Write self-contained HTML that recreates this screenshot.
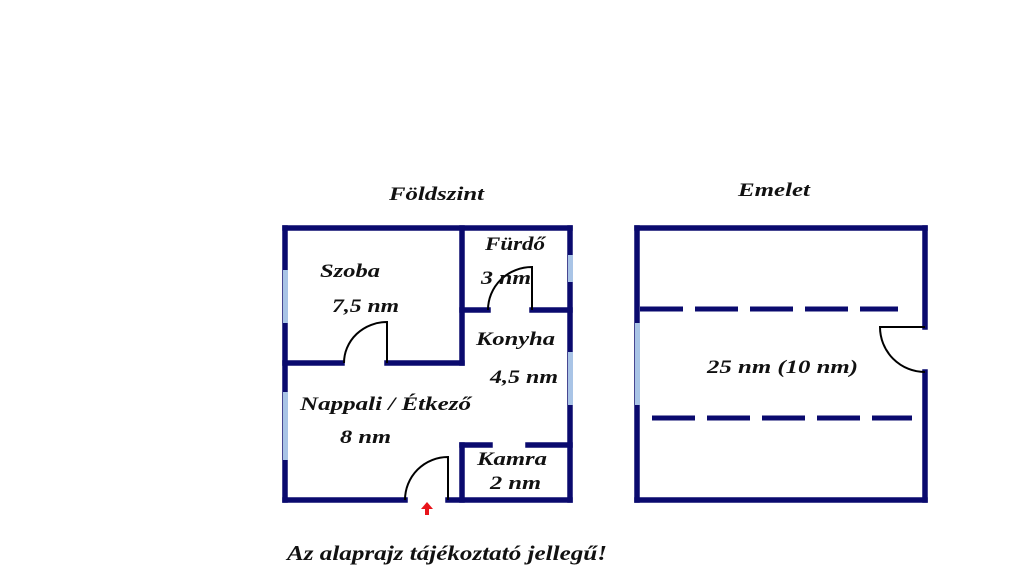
<!DOCTYPE html>
<html><head><meta charset="utf-8"><style>
html,body{margin:0;padding:0;background:#fff;}
svg{display:block;}
text{font-family:"Liberation Serif",serif;font-style:italic;font-weight:bold;fill:#111;}
</style></head><body>
<svg width="1024" height="578" viewBox="0 0 1024 578" xmlns="http://www.w3.org/2000/svg">
<g stroke="#0a0a6e" stroke-width="5.5" stroke-linecap="square" fill="none">
<line x1="285" y1="228" x2="570" y2="228"/>
<line x1="285" y1="228" x2="285" y2="500"/>
<line x1="570" y1="228" x2="570" y2="500"/>
<line x1="285" y1="500" x2="405" y2="500"/>
<line x1="448" y1="500" x2="570" y2="500"/>
<line x1="462" y1="228" x2="462" y2="363"/>
<line x1="285" y1="363" x2="342" y2="363"/>
<line x1="387" y1="363" x2="462" y2="363"/>
<line x1="462" y1="310" x2="488" y2="310"/>
<line x1="532" y1="310" x2="570" y2="310"/>
<line x1="462" y1="445" x2="490" y2="445"/>
<line x1="528" y1="445" x2="570" y2="445"/>
<line x1="462" y1="445" x2="462" y2="500"/>
<line x1="637" y1="228" x2="925" y2="228"/>
<line x1="637" y1="228" x2="637" y2="500"/>
<line x1="637" y1="500" x2="925" y2="500"/>
<line x1="925" y1="228" x2="925" y2="327"/>
<line x1="925" y1="372" x2="925" y2="500"/>
</g>
<g stroke="#0a0a6e" stroke-width="5" stroke-dasharray="43 12" fill="none">
<line x1="640" y1="309" x2="898" y2="309"/>
<line x1="652" y1="418" x2="912" y2="418"/>
</g>
<g fill="#a9c4e6">
<rect x="283" y="270" width="5" height="53"/>
<rect x="283" y="392" width="5" height="68"/>
<rect x="568" y="255" width="5" height="27"/>
<rect x="568" y="352" width="5" height="53"/>
<rect x="635" y="323" width="5" height="82"/>
</g>
<g stroke="#000" stroke-width="2" fill="none">
<path d="M387 363 V322 A43 41 0 0 0 344 363"/>
<path d="M532 310 V267 A44 43 0 0 0 488 310"/>
<path d="M448 500 V457 A43 43 0 0 0 405 500"/>
<path d="M925 327 H880 A45 45 0 0 0 925 372"/>
</g>
<path d="M427 502 L421 509 H425 V515 H429 V509 H433 Z" fill="#e8141b"/>
<g font-size="19" lengthAdjust="spacingAndGlyphs">
<text x="389" y="200" textLength="95" lengthAdjust="spacingAndGlyphs">Földszint</text>
<text x="738" y="196" textLength="72" lengthAdjust="spacingAndGlyphs">Emelet</text>
<text x="320" y="277" textLength="60" lengthAdjust="spacingAndGlyphs">Szoba</text>
<text x="332" y="312" textLength="67" lengthAdjust="spacingAndGlyphs">7,5 nm</text>
<text x="485" y="250" textLength="60" lengthAdjust="spacingAndGlyphs">Fürdő</text>
<text x="481" y="284" textLength="50" lengthAdjust="spacingAndGlyphs">3 nm</text>
<text x="476" y="345" textLength="79" lengthAdjust="spacingAndGlyphs">Konyha</text>
<text x="490" y="383" textLength="68" lengthAdjust="spacingAndGlyphs">4,5 nm</text>
<text x="300" y="410" textLength="171" lengthAdjust="spacingAndGlyphs">Nappali / Étkező</text>
<text x="340" y="443" textLength="51" lengthAdjust="spacingAndGlyphs">8 nm</text>
<text x="477" y="465" textLength="70" lengthAdjust="spacingAndGlyphs">Kamra</text>
<text x="490" y="489" textLength="51" lengthAdjust="spacingAndGlyphs">2 nm</text>
<text x="707" y="373" textLength="151" lengthAdjust="spacingAndGlyphs">25 nm (10 nm)</text>
<text x="287" y="560" font-size="21" textLength="320" lengthAdjust="spacingAndGlyphs">Az alaprajz tájékoztató jellegű!</text>
</g>
</svg>
</body></html>
